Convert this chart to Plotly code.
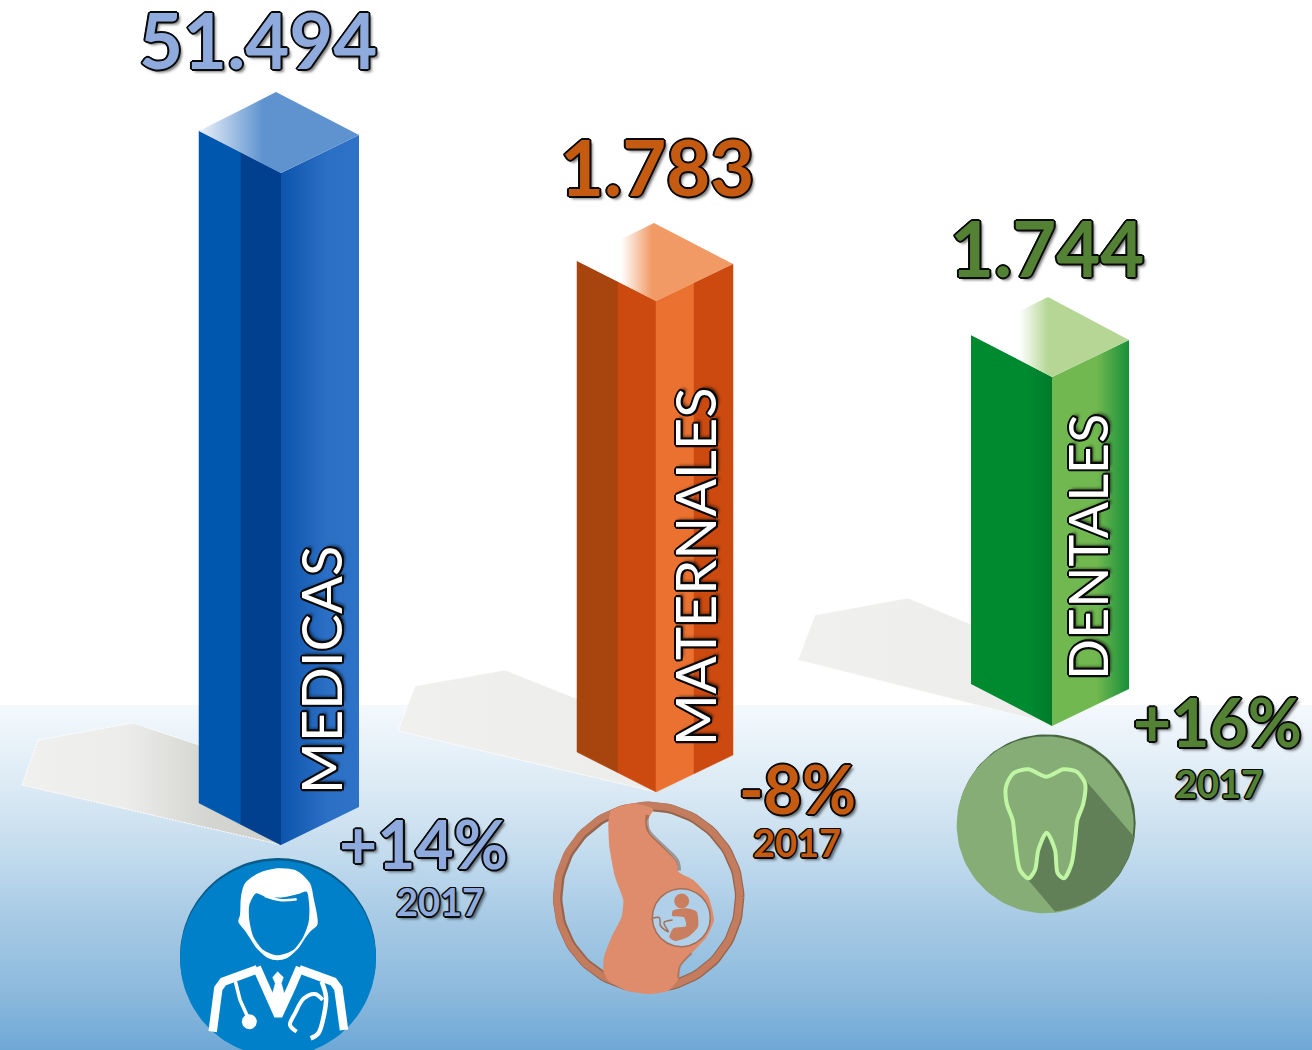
import numpy as np
import plotly.graph_objects as go

# ---- chart data ----
categories = ["MEDICAS", "MATERNALES", "DENTALES"]
values = [51494, 1783, 1744]
value_labels = ["51.494", "1.783", "1.744"]
changes = ["+14%", "-8%", "+16%"]
years = ["2017", "2017", "2017"]
column_heights = [672, 491, 349]

W, H = 1312, 1050
fig = go.Figure()


def poly(pts, fill=None, grad=None, line=None, lw=0, dash=None, spline=False, smoothing=1.0, closed=True, opacity=1.0):
    pts = list(pts)
    if closed:
        pts = pts + [pts[0]]
    x = [p[0] for p in pts]
    y = [p[1] for p in pts]
    kw = {}
    if fill or grad:
        kw["fill"] = "toself"
    if fill:
        kw["fillcolor"] = fill
    if grad:
        kw["fillgradient"] = grad
    ln = dict(width=lw, color=line or "rgba(0,0,0,0)")
    if dash:
        ln["dash"] = dash
    if spline:
        ln["shape"] = "spline"
        ln["smoothing"] = smoothing
    fig.add_trace(go.Scatter(x=x, y=y, mode="lines", line=ln, hoverinfo="skip", showlegend=False, opacity=opacity, **kw))


def hgrad(x0, x1, stops):
    return dict(type="horizontal", start=x0, stop=x1, colorscale=stops)


def disc(cx, cy, r, fill=None, line=None, lw=0):
    t = np.linspace(0, 2 * np.pi, 121)
    poly(list(zip(cx + r * np.cos(t), cy + r * np.sin(t))), fill=fill, line=line, lw=lw, closed=False)


def zc(ox, oy, pts, s=3.0):
    return [(ox + a / s, oy + b / s) for a, b in pts]


# ---- background ----
poly([(0, 705), (W, 705), (W, H), (0, H)],
     grad=dict(type="vertical", start=705, stop=H, colorscale=[
         [0.0, "#F4F9FD"], [0.25, "#DAE9F4"], [0.42, "#C4DCEE"], [0.62, "#A7CAE5"],
         [0.85, "#8AB8DC"], [0.97, "#74ABD7"], [1.0, "#6FA8D5"]]))

# ---- floor shadows ----
shadow_pts = [
    [(38, 740), (133, 723), (205, 747), (282, 845), (22, 785)],
    [(415, 686), (505, 670), (585, 702), (656, 792), (398, 731)],
    [(815, 615), (908, 598), (980, 628), (1052, 724), (798, 660)],
]
shadow_stops = [
    hgrad(22, 282, [[0, "#F0F0EF"], [0.4, "#ECECEB"], [0.72, "#D4D5D0"], [1, "#D0D1CC"]]),
    hgrad(398, 656, [[0, "#F0F0EF"], [1, "#ECECEA"]]),
    hgrad(798, 1052, [[0, "#F0F0EF"], [1, "#ECECEA"]]),
]
for p, g in zip(shadow_pts, shadow_stops):
    poly(p, grad=g, line="#FFFFFF", lw=1, dash="2px,1px")

# ---- isometric columns ----
geom = [
    dict(l=199, f=281, r=359, lt=131, ft=173, rt=135, apex=(276, 92),
         strips=[(199, 241, "#0057AE", None), (241, 281, "#00408F", None),
                 (281, 359, None, [[0, "#0C54AC"], [0.6, "#2C70C6"], [1, "#2E72C8"]])],
         top=[[0, "#EAF0F8"], [0.9, "#5F93D0"], [1, "#5F93D0"]], tg=(200, 270)),
    dict(l=577, f=656, r=733, lt=261, ft=301, rt=264, apex=(654, 223),
         strips=[(577, 618, "#A8440E", None), (618, 656, "#CC4A10", None),
                 (656, 694, "#EB7130", None), (694, 733, "#CC4A10", None)],
         top=[[0, "#FFFFFF"], [0.5, "#FFFFFF"], [1, "#F29A66"]], tg=(590, 652)),
    dict(l=971, f=1052, r=1129, lt=335, ft=377, rt=340, apex=(1048, 297),
         strips=[(971, 1052, None, [[0, "#008A30"], [0.7, "#008A30"], [1, "#007A2A"]]),
                 (1052, 1129, None, [[0, "#72B850"], [0.58, "#72B850"], [1, "#16903A"]])],
         top=[[0, "#FFFFFF"], [0.55, "#FFFFFF"], [1, "#B5D695"]], tg=(985, 1048)),
]
for g, h in zip(geom, column_heights):
    def ytop(x):
        if x <= g["f"]:
            return g["lt"] + (g["ft"] - g["lt"]) * (x - g["l"]) / (g["f"] - g["l"])
        return g["ft"] + (g["rt"] - g["ft"]) * (x - g["f"]) / (g["r"] - g["f"])

    for xa, xb, col, stops in g["strips"]:
        pts = [(xa, ytop(xa)), (xb, ytop(xb)), (xb, ytop(xb) + h), (xa, ytop(xa) + h)]
        if col:
            poly(pts, fill=col, line=col, lw=0.5)
        else:
            poly(pts, grad=hgrad(xa, xb, stops))
    poly([(g["l"], g["lt"]), g["apex"], (g["r"], g["rt"]), (g["f"], g["ft"])],
         grad=hgrad(g["tg"][0], g["tg"][1], g["top"]))

# ---- doctor icon ----
BLUE = "#0080C8"
disc(278, 956, 98, fill="#0A5A88")
disc(278, 958.5, 98, fill=BLUE)
head = [(322, 265), (380, 272), (420, 310), (432, 360), (442, 410), (442, 435), (420, 455), (405, 475), (385, 505),
        (350, 535), (322, 541), (295, 535), (260, 505), (240, 475), (225, 452), (205, 425), (210, 405), (213, 350),
        (225, 310), (265, 280)]
poly(zc(170, 780, head), fill="#FFFFFF", spline=True, smoothing=0.8)
face = [(258, 340), (290, 352), (340, 352), (385, 342), (410, 335), (418, 380), (416, 425), (400, 470), (370, 510),
        (322, 526), (280, 510), (250, 470), (238, 420), (238, 375)]
poly(zc(170, 780, face), fill=BLUE, spline=True, smoothing=0.7)
poly(zc(170, 780, [(285, 348), (330, 360), (380, 358)]), line="#FFFFFF", lw=2.5, spline=True, closed=False)

coat = [
    [(38, 245), (55, 115), (70, 95), (172, 58)],
    [(170, 52), (195, 110), (235, 197), (275, 110), (300, 52)],
    [(298, 58), (400, 95), (415, 115), (432, 240)],
]
for c in coat:
    poly(zc(200, 950, c), line="#FFFFFF", lw=8.5, closed=False)
tie = [(233, 65), (250, 82), (244, 100), (258, 150), (235, 178), (212, 150), (226, 100), (218, 82)]
poly(zc(200, 950, tie), fill="#FFFFFF", line="#FFFFFF", lw=0.5)
poly(zc(200, 950, [(105, 90), (120, 150), (145, 205)]), line="#FFFFFF", lw=3.5, closed=False)
disc(200 + 148 / 3, 950 + 215 / 3, 7.5, fill="#FFFFFF")
poly(zc(200, 950, [(365, 95), (378, 140), (372, 195), (355, 250), (332, 265)]), line="#FFFFFF", lw=4.5, spline=True, closed=False)
poly(zc(200, 950, [(368, 150), (345, 132), (312, 145), (285, 190), (270, 225), (290, 245)]), line="#FFFFFF", lw=4, spline=True, closed=False)

# ---- maternity icon ----
OR = "#DE8C6B"
ocx, ocy = 540 + 326 / 3, 740 + 472 / 3
disc(ocx, ocy, 91, line="#96654F", lw=9.5)
disc(ocx - 0.5, ocy - 0.5, 91.5, line="#C47C5E", lw=7)
body = [(205, 250), (208, 320), (225, 410), (250, 480), (245, 530), (215, 590), (192, 650), (190, 692), (205, 722),
        (260, 752), (326, 762), (385, 752), (416, 716), (420, 680), (455, 640), (500, 590), (522, 540), (505, 470), (460, 420),
        (415, 395), (410, 365), (370, 320), (330, 280), (320, 245), (340, 208), (280, 190), (212, 212)]
poly(zc(540, 740, body), fill=OR, spline=True, smoothing=0.5)
poly(zc(540, 740, [(322, 225), (325, 270), (372, 320), (412, 362), (418, 392)]), line="rgba(110,70,50,0.45)", lw=3.5, spline=True, closed=False)
poly(zc(540, 740, [(415, 715), (420, 680), (455, 640)]), line="rgba(110,70,50,0.35)", lw=2, spline=True, closed=False)
wx, wy = 540 + 424 / 3, 740 + 533 / 3
disc(wx, wy, 29, fill="#AFD0E8", line="#A36F58", lw=1.5)
disc(540 + 425 / 3, 740 + 483 / 3, 7.5, fill="#C97E5F")
fetus = [(440, 505), (470, 515), (474, 560), (445, 590), (405, 603), (388, 592), (400, 565), (438, 558), (432, 532), (397, 528), (398, 512)]
poly(zc(540, 740, fetus), fill="#C97E5F", spline=True, smoothing=0.6)
poly(zc(540, 740, [(338, 535), (358, 533), (362, 558), (385, 575), (372, 548), (398, 540)]), line="#A36F58", lw=1.5, spline=True, closed=False)

# ---- tooth icon ----
tcx, tcy = 940 + 320 / 3, 680 + 430 / 3
disc(tcx, tcy, 89, fill="#47663F")
disc(tcx - 1.5, tcy + 1.5, 88.5, fill="#85AD75")
a0 = np.arctan2((470 / 3 + 680) - tcy, (582 / 3 + 940) - tcx)
a1 = np.arctan2((697 / 3 + 680) - tcy, (345 / 3 + 940) - tcx)
arc = np.linspace(a0, a1, 40)
long_shadow = zc(940, 680, [(265, 600), (240, 450), (300, 350), (440, 305)]) + \
    list(zip(tcx + 88.5 * np.cos(arc), tcy + 88.5 * np.sin(arc)))
poly(long_shadow, fill="#628058")
tooth = [(320, 290), (370, 268), (410, 275), (435, 310), (430, 370), (412, 420), (405, 480), (395, 550), (372, 595),
         (353, 580), (345, 510), (320, 458), (295, 510), (285, 570), (265, 595), (240, 570), (225, 480), (218, 420),
         (200, 370), (198, 320), (220, 280), (265, 268)]
poly(zc(940, 680, tooth), fill="#85AD75", spline=True, smoothing=0.8)
poly(zc(940, 680, tooth), line="#BFF5A3", lw=4, spline=True, smoothing=0.8)


# ---- text ----
def outline(w, col="#0A0A0A", drop="3px 3px 3px rgba(0,0,0,0.55)"):
    dirs = [(1, 0), (-1, 0), (0, 1), (0, -1), (.7, .7), (-.7, .7), (.7, -.7), (-.7, -.7)]
    return ", ".join(f"{a * w:.1f}px {b * w:.1f}px 0.3px {col}" for a, b in dirs) + ", " + drop


def label(x, y, text, size, color, angle=0, w=2.0, weight=700):
    fig.add_annotation(x=x, y=y, text=text, showarrow=False, textangle=angle, xanchor="center", yanchor="middle",
                       font=dict(family="Lato", size=size, color=color, weight=weight, shadow=outline(w)))


text_colors = ["#8FAADC", "#C55A11", "#548235"]
value_pos = [(258, 39), (657, 166), (1047, 247)]
change_pos = [(423, 843), (797, 788), (1217, 721)]
year_pos = [(440, 901), (797, 842), (1219, 783)]
name_pos = [(320, 670), (694, 567), (1087, 547)]
name_sizes = [56, 56, 54]
for i, cat in enumerate(categories):
    label(*value_pos[i], value_labels[i], 76, text_colors[i])
    label(*change_pos[i], changes[i], 66, text_colors[i])
    label(*year_pos[i], years[i], 38, text_colors[i], w=1.5)
    label(*name_pos[i], cat, name_sizes[i], "#FFFFFF", angle=-90, w=2.2, weight=400)

fig.update_layout(
    width=W, height=H, autosize=False,
    margin=dict(l=0, r=0, t=0, b=0),
    paper_bgcolor="#FFFFFF", plot_bgcolor="#FFFFFF",
    xaxis=dict(range=[0, W], visible=False, fixedrange=True),
    yaxis=dict(range=[H, 0], visible=False, fixedrange=True),
    showlegend=False,
)
fig.write_html("out.html", config=dict(displayModeBar=False),
               post_script="document.body.style.margin='0';document.body.style.overflow='hidden';")
